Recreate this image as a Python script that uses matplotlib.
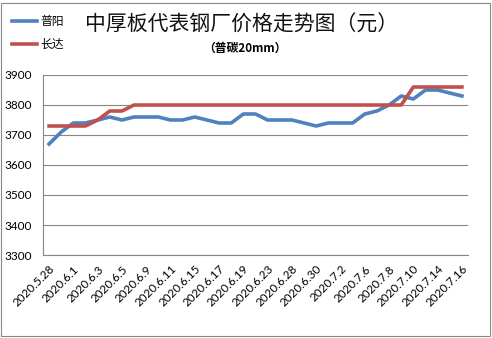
import matplotlib
matplotlib.use("Agg")
import matplotlib.pyplot as plt
from matplotlib.patches import Rectangle

# dates (trading days), labels shown on every second one
dates = ["2020.5.28", "2020.5.29", "2020.6.1", "2020.6.2", "2020.6.3", "2020.6.4",
         "2020.6.5", "2020.6.8", "2020.6.9", "2020.6.10", "2020.6.11", "2020.6.12",
         "2020.6.15", "2020.6.16", "2020.6.17", "2020.6.18", "2020.6.19", "2020.6.22",
         "2020.6.23", "2020.6.24", "2020.6.28", "2020.6.29", "2020.6.30", "2020.7.1",
         "2020.7.2", "2020.7.3", "2020.7.6", "2020.7.7", "2020.7.8", "2020.7.9",
         "2020.7.10", "2020.7.13", "2020.7.14", "2020.7.15", "2020.7.16"]

puyang = [3670, 3710, 3740, 3740, 3750, 3760, 3750, 3760, 3760, 3760,
          3750, 3750, 3760, 3750, 3740, 3740, 3770, 3770, 3750, 3750,
          3750, 3740, 3730, 3740, 3740, 3740, 3770, 3780, 3800, 3830,
          3820, 3850, 3850, 3840, 3830]

changda = [3730, 3730, 3730, 3730, 3750, 3780, 3780, 3800, 3800, 3800,
           3800, 3800, 3800, 3800, 3800, 3800, 3800, 3800, 3800, 3800,
           3800, 3800, 3800, 3800, 3800, 3800, 3800, 3800, 3800, 3800,
           3860, 3860, 3860, 3860, 3860]

yticks = [3300, 3400, 3500, 3600, 3700, 3800, 3900]

cjk = ["Noto Sans CJK SC", "DejaVu Sans"]
lat = ["Lato", "DejaVu Sans"]

W, H = 492, 338
fig = plt.figure(figsize=(W / 100, H / 100), dpi=100)
fig.patches.append(Rectangle((1 / W, 2 / H), 489 / W, 333 / H, transform=fig.transFigure,
                             fill=False, edgecolor="#888888", linewidth=0.8))

ax = fig.add_axes([43 / W, 1 - 255 / H, 425 / W, 180 / H])
x = list(range(len(dates)))
ax.plot(x, puyang, color="#4F81BD", linewidth=2.6, solid_joinstyle="round")
ax.plot(x, changda, color="#C0504D", linewidth=2.6, solid_joinstyle="round")

ax.set_xlim(-0.5, len(dates) - 0.5)
ax.set_ylim(3300, 3900)
ax.set_yticks(yticks)
ax.set_yticklabels([str(v) for v in yticks], family=lat, fontsize=8.5)
ax.yaxis.grid(True, color="#868686", linewidth=0.8)
ax.set_axisbelow(True)
ax.tick_params(axis="y", length=0, pad=8)

ax.set_xticks(x[::2])
ax.set_xticklabels(dates[::2], rotation=45, ha="right", rotation_mode="anchor",
                   family=lat, fontsize=8.5)
ax.tick_params(axis="x", length=0, pad=6)

for s in ["top", "right"]:
    ax.spines[s].set_visible(False)
ax.spines["left"].set_color("#868686")
ax.spines["bottom"].set_color("#868686")
ax.spines["left"].set_linewidth(0.8)
ax.spines["bottom"].set_linewidth(0.8)

# titles
fig.text(242 / W, 1 - 25 / H, "中厚板代表钢厂价格走势图（元）", family=cjk,
         fontsize=15, ha="center", va="center", color="#111111")
fig.text(245 / W, 1 - 48 / H, "（普碳20mm）", family=cjk, fontsize=8.5,
         fontweight="bold", ha="center", va="center")

# legend
for yy, name, col in [(21, "普阳", "#4F81BD"), (44, "长达", "#C0504D")]:
    fig.lines.append(plt.Line2D([12 / W, 37 / W], [1 - yy / H, 1 - yy / H],
                                transform=fig.transFigure, color=col, linewidth=2.6))
    fig.text(40 / W, 1 - yy / H, name, family=cjk, fontsize=8.5, ha="left", va="center")

fig.savefig("out.png", dpi=100)
